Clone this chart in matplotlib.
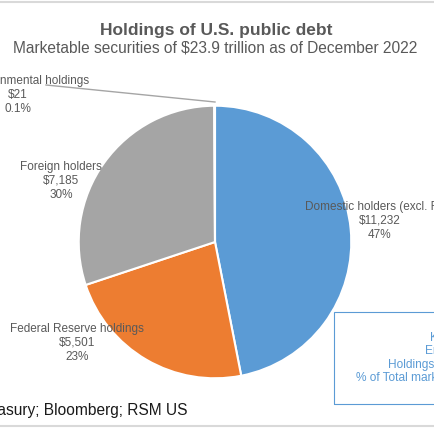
import matplotlib.pyplot as plt
from matplotlib.lines import Line2D
from matplotlib.patches import Rectangle

plt.rcParams['font.family'] = ['Liberation Sans', 'DejaVu Sans']

# data ($ billions), clockwise from 12 o'clock
holders = ["Domestic holders (excl. Fed)", "Federal Reserve holdings",
           "Foreign holders", "Intragovernmental holdings"]
amounts = [11232, 5501, 7185, 21]
shares = ["47%", "23%", "30%", "0.1%"]
colors = ["#5B9BD5", "#ED7D31", "#A5A5A5", "#FFC000"]

W = H = 435


def px(x, y):
    # pixel coords (from top-left) to figure fraction
    return x / W, 1 - y / H


fig = plt.figure(figsize=(4.35, 4.35), dpi=100)

cx, cy, r = 215, 243, 139
ax = fig.add_axes([(cx - r) / W, (H - cy - r) / H, 2 * r / W, 2 * r / H])
ax.pie(amounts, colors=colors, startangle=90, counterclock=False,
       wedgeprops={'edgecolor': 'white', 'linewidth': 1.5})
ax.set_xlim(-1.02, 1.02)
ax.set_ylim(-1.02, 1.02)
ax.axis('off')

txt = "#595959"
fig.text(*px(216, 30), "Holdings of U.S. public debt", ha='center', va='center',
         fontsize=12.5, fontweight='bold', color=txt)
fig.text(*px(215, 48), "Marketable securities of $23.9 trillion as of December 2022",
         ha='center', va='center', fontsize=11.2, color=txt)

# slice labels
label_pos = {0: (380, 221), 1: (77, 343), 2: (61, 181), 3: (18, 95)}
for i, (x, y) in label_pos.items():
    fig.text(*px(x, y), f"{holders[i]}\n${amounts[i]:,}\n{shares[i]}",
             ha='center', va='center', fontsize=8.5, color=txt, linespacing=1.2)

fig.add_artist(Line2D([46 / W, 215 / W], [1 - 86 / H, 1 - 103 / H],
                      transform=fig.transFigure, color="#A5A5A5", lw=1))

# key box at the lower right
fig.add_artist(Rectangle(px(334, 405), 120 / W, 92 / H, transform=fig.transFigure,
                         fill=False, edgecolor="#5B9BD5", lw=0.8))
fig.text(*px(440, 358), "Key\nEntity\nHoldings ($ billions)\n% of Total marketable securities",
         ha='center', va='center', fontsize=8.6, color="#5B9BD5", linespacing=1.15)

fig.text(*px(188, 411), "Source: U.S. Treasury; Bloomberg; RSM US", ha='right',
         va='center', fontsize=11.2, color="#1a1a1a")

# grey rules at the top and bottom
for y in (3, 427):
    fig.add_artist(Line2D([0, 1], [1 - y / H] * 2, transform=fig.transFigure,
                          color="#D9D9D9", lw=1.5))

fig.savefig("out.png", dpi=100)
